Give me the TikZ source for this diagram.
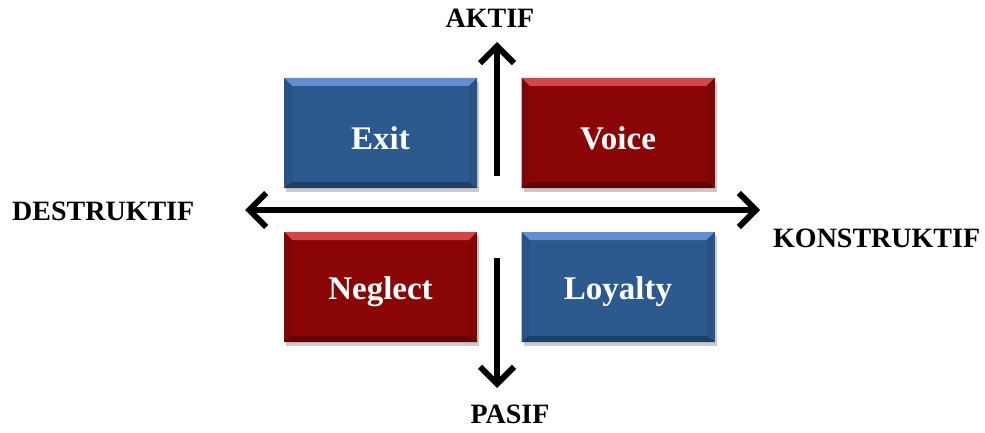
\documentclass[tikz,border=0pt]{standalone}
\usepackage{fontspec}
\setmainfont{Liberation Serif}
\usetikzlibrary{arrows.meta,shadows}
\definecolor{bbase}{RGB}{44,89,142}
\definecolor{btop}{RGB}{96,144,210}
\definecolor{bside}{RGB}{40,82,132}
\definecolor{bbot}{RGB}{30,62,102}
\definecolor{rbase}{RGB}{138,6,6}
\definecolor{rtop}{RGB}{212,70,70}
\definecolor{rside}{RGB}{126,6,6}
\definecolor{rbot}{RGB}{96,4,4}
\tikzset{
  x=1pt,y=-1pt,
  boxtext/.style={text=white,font=\fontsize{33}{36}\selectfont\bfseries},
  axlabel/.style={text=black,font=\fontsize{28}{30}\selectfont\bfseries,inner sep=0pt},
  bevelbox/.style n args={4}{minimum width=193pt,minimum height=110pt,inner sep=0pt,
    fill=#1,
    drop shadow={shadow xshift=2pt,shadow yshift=-4pt,opacity=0.35,fill=black!60},
    path picture={
      \fill[#2] (path picture bounding box.north west) -- (path picture bounding box.north east)
        -- ([xshift=-8pt,yshift=-8pt]path picture bounding box.north east)
        -- ([xshift=8pt,yshift=-8pt]path picture bounding box.north west) -- cycle;
      \fill[#3] (path picture bounding box.north west) -- ([xshift=8pt,yshift=-8pt]path picture bounding box.north west)
        -- ([xshift=8pt,yshift=6pt]path picture bounding box.south west)
        -- (path picture bounding box.south west) -- cycle;
      \fill[#3] (path picture bounding box.north east) -- ([xshift=-8pt,yshift=-8pt]path picture bounding box.north east)
        -- ([xshift=-8pt,yshift=6pt]path picture bounding box.south east)
        -- (path picture bounding box.south east) -- cycle;
      \fill[#4] (path picture bounding box.south west) -- ([xshift=8pt,yshift=6pt]path picture bounding box.south west)
        -- ([xshift=-8pt,yshift=6pt]path picture bounding box.south east)
        -- (path picture bounding box.south east) -- cycle;
    }},
  bluebox/.style={bevelbox={bbase}{btop}{bside}{bbot}},
  redbox/.style={bevelbox={rbase}{rtop}{rside}{rbot}},
  tipbarb/.tip={Straight Barb[length=17pt,width=34pt,line width=6pt]},
  axis/.style={line width=6pt,draw=black,-tipbarb},
  axis2/.style={line width=6pt,draw=black,tipbarb-tipbarb}
}
\begin{document}
\begin{tikzpicture}
\useasboundingbox (0,0) rectangle (985,433);
\node[bluebox,label={[boxtext,yshift=-5pt]center:Exit}] (exit) at (380.5,133) {};
\node[redbox,label={[boxtext,yshift=-5pt]center:Voice}] (voice) at (618,133) {};
\node[redbox,label={[boxtext,yshift=-5pt]center:Neglect}] (neglect) at (380.5,287) {};
\node[bluebox,label={[boxtext,yshift=-5pt]center:Loyalty}] (loyalty) at (618,287) {};
\node[axlabel] (aktif) at (490,18) {AKTIF};
\node[axlabel] (pasif) at (510,414) {PASIF};
\node[axlabel,anchor=west] (destr) at (12,211) {DESTRUKTIF};
\node[axlabel,anchor=west] (konstr) at (773,238) {KONSTRUKTIF};
\coordinate (upS) at (497,176);
\coordinate (upE) at (497,42);
\coordinate (dnS) at (497,258);
\coordinate (dnE) at (497,388);
\coordinate (lE) at (245,210);
\coordinate (rE) at (760,210);
\draw[axis2] (lE) -- (rE);
\draw[axis] (upS) -- (upE);
\draw[axis] (dnS) -- (dnE);
\end{tikzpicture}
\end{document}
